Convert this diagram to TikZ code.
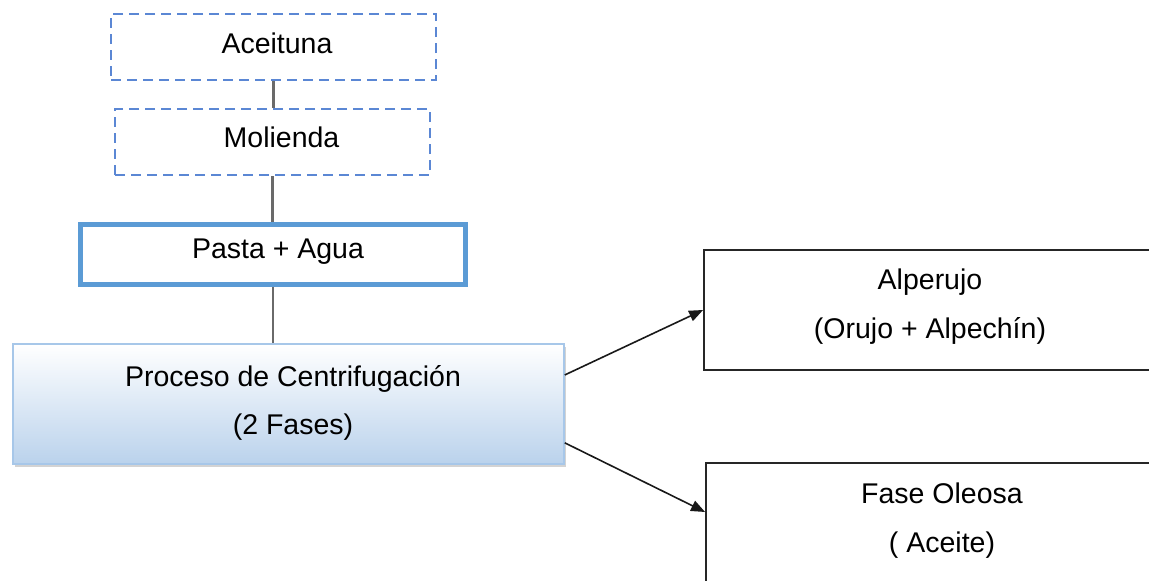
\documentclass[tikz,border=0pt]{standalone}
\usepackage{fontspec}
\setmainfont{Liberation Sans}
\usetikzlibrary{arrows.meta,shadows}
\definecolor{dashblue}{HTML}{5B87D4}
\definecolor{pastablue}{HTML}{5B9BD5}
\definecolor{procborder}{HTML}{A7C7E9}
\definecolor{procbottom}{HTML}{BAD2EC}
\definecolor{linkgray}{HTML}{6A6A6A}
\newcommand{\liftup}[2]{\raisebox{#1}[\height][\depth]{#2}}
\tikzset{
  every node/.style={font=\fontsize{28.5}{48}\selectfont, align=center, inner sep=0pt},
  dashbox/.style={draw=dashblue, line width=2pt, dash pattern=on 10pt off 6pt},
  pastabox/.style={draw=pastablue, line width=5pt},
  procbox/.style={draw=procborder, line width=1.5pt, top color=white, bottom color=procbottom,
    drop shadow={shadow xshift=2pt, shadow yshift=-3pt, opacity=0.35, fill=gray}},
  outbox/.style={draw=black!85, line width=1.8pt, fill=white},
  link/.style={draw=linkgray, line width=2.5pt},
  arr/.style={draw=black!90, line width=1.6pt, -{Triangle[length=14pt,width=11pt]}}
}
\begin{document}
\begin{tikzpicture}[x=1pt, y=-1pt]
\useasboundingbox (0,0) rectangle (1149,581);
\clip (0,0) rectangle (1149,581);
\node[dashbox, minimum width=325pt, minimum height=66pt] (ace) at (273.5,47) {\hspace{7pt}\liftup{4pt}{Aceituna}};
\node[dashbox, minimum width=315pt, minimum height=66pt] (mol) at (272.5,142) {\hspace{18pt}\liftup{5pt}{Molienda}};
\node[pastabox, minimum width=385pt, minimum height=60pt] (pas) at (273,254.5) {\hspace{10pt}\liftup{3pt}{Pasta + Agua}};
\node[procbox, minimum width=551pt, minimum height=120pt] (proc) at (288.5,404) {\hspace{9pt}\liftup{1.5pt}{Proceso de Centrifugación}\\\hspace{9pt}\liftup{1.5pt}{(2 Fases)}};
\node[outbox, minimum width=452pt, minimum height=120pt] (alp) at (930,310) {\liftup{4pt}{Alperujo}\\\liftup{3pt}{(Orujo + Alpechín)}};
\node[outbox, minimum width=472pt, minimum height=120pt] (fase) at (942,523) {\liftup{3pt}{Fase Oleosa}\\\liftup{2pt}{( Aceite)}};
\draw[link] (ace.south) -- (ace.south |- mol.north);
\draw[link] (mol.south) -- (mol.south |- pas.north);
\draw[link] (pas.south) -- (pas.south |- proc.north);
\draw[arr] (proc.6.4) -- (alp.west);
\draw[arr] (proc.-8.1) -- ([yshift=11pt]fase.west);
\end{tikzpicture}
\end{document}
